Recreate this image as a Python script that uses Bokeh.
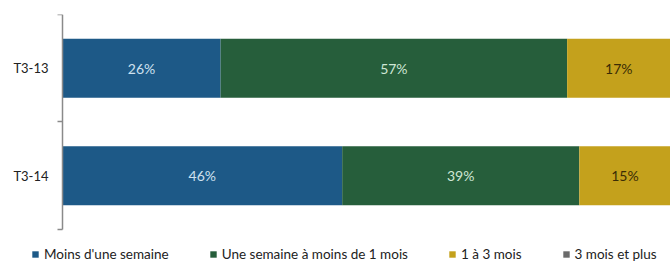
from bokeh.plotting import figure
from bokeh.models import ColumnDataSource, Range1d, FixedTicker, LabelSet, Legend, LegendItem
from bokeh.core.properties import value
from bokeh.embed import file_html
from bokeh.resources import INLINE

categories = ["T3-13", "T3-14"]
series = ["Moins d'une semaine", "Une semaine à moins de 1 mois", "1 à 3 mois", "3 mois et plus"]
moins_semaine = [26, 46]
semaine_mois = [57, 39]
un_trois_mois = [17, 15]
trois_mois_plus = [0, 0]
colors = ["#1d5987", "#265e3b", "#c4a11c", "#6b6b6b"]
label_colors = ["#cfe1ef", "#cfe6d5", "#3a2c05", "#ffffff"]

FONT = "Lato"
n = len(categories)
ypos = [n - 1 - i + 0.5 for i in range(n)]

data = {"y": ypos, "cat": categories}
keys = ["s0", "s1", "s2", "s3"]
for k, vals in zip(keys, [moins_semaine, semaine_mois, un_trois_mois, trois_mois_plus]):
    data[k] = vals
src = ColumnDataSource(data)

# padding (in data units) around the plotted area, leaving room for labels and legend
left_room = 10.2
legend_room = 0.307

p = figure(width=670, height=262, output_backend="svg", toolbar_location=None,
           x_range=Range1d(-left_room, 100), y_range=Range1d(-legend_room, n),
           min_border_left=0, min_border_right=0, min_border_top=14, min_border_bottom=0)
p.outline_line_color = None
p.xgrid.visible = False
p.ygrid.visible = False
p.xaxis.visible = False

rs = p.hbar_stack(keys, y="y", height=0.55, color=colors, source=src, line_color=None)

cum = [0] * n
for k, vals, lc in zip(keys, [moins_semaine, semaine_mois, un_trois_mois, trois_mois_plus], label_colors):
    xs = [c + v / 2 for c, v in zip(cum, vals)]
    txt = [f"{v}%" if v > 0 else "" for v in vals]
    cum = [c + v for c, v in zip(cum, vals)]
    ls = ColumnDataSource(dict(x=xs, y=ypos, t=txt))
    p.add_layout(LabelSet(x="x", y="y", text="t", source=ls, text_align="center",
                          text_baseline="middle", text_color=lc, text_font=value(FONT),
                          text_font_size="14px"))

ax = p.yaxis[0]
ax.fixed_location = 0
ax.bounds = (0, n)
ax.ticker = FixedTicker(ticks=ypos, minor_ticks=[float(i) for i in range(n + 1)])
ax.major_label_overrides = {y: c for y, c in zip(ypos, categories)}
ax.major_tick_line_color = None
ax.minor_tick_line_color = "#8a8a8a"
ax.minor_tick_out = 5
ax.minor_tick_in = 0
ax.axis_line_color = "#8a8a8a"
ax.axis_line_width = 1.5
ax.minor_tick_line_width = 1.5
ax.major_label_text_font = FONT
ax.major_label_text_font_size = "13px"
ax.major_label_text_color = "#222222"
ax.major_label_standoff = 8

items = [LegendItem(label=s, renderers=[r]) for s, r in zip(series, rs)]
leg = Legend(items=items, orientation="horizontal", location=(31, 0),
             label_text_font=FONT, label_text_font_size="13.5px", label_text_color="#222222",
             glyph_width=8, glyph_height=8, label_standoff=5, spacing=40,
             padding=0, margin=0, border_line_color=None, background_fill_alpha=0)
p.add_layout(leg, "center")

open("out.html", "w").write(file_html(p, INLINE))
